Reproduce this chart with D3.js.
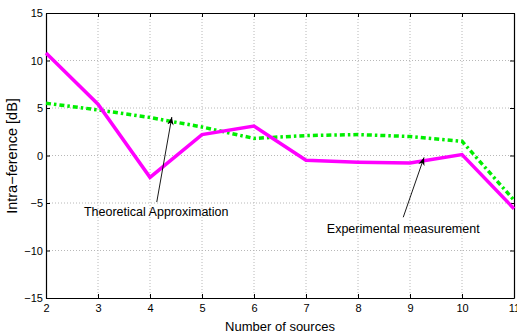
<!DOCTYPE html>
<html>
<head>
<meta charset="utf-8">
<script src="https://cdn.jsdelivr.net/npm/d3@7"></script>
<style>
  body { margin: 0; background: #fff; }
  text { font-family: "Liberation Sans Narrow", "Liberation Sans", Arial, sans-serif; fill: #000; }
</style>
</head>
<body>
<div id="chart"></div>
<script>
// values
const sources = [2, 3, 4, 5, 6, 7, 8, 9, 10, 11];
const experimental = [10.8, 5.4, -2.3, 2.2, 3.1, -0.5, -0.7, -0.8, 0.1, -5.6];
const theoretical = [5.5, 4.8, 4.0, 3.0, 1.8, 2.1, 2.2, 2.0, 1.5, -4.7];
const xTicks = [2, 3, 4, 5, 6, 7, 8, 9, 10, 11];
const yTicks = [-15, -10, -5, 0, 5, 10, 15];

const W = 517, H = 335;
const margin = { top: 13, right: 3, bottom: 37, left: 46 };
const width = W - margin.left - margin.right;
const height = H - margin.top - margin.bottom;

const x = d3.scaleLinear().domain([2, 11]).range([0, width]);
const y = d3.scaleLinear().domain([-15, 15]).range([height, 0]);

const svg = d3.select('#chart').append('svg')
  .attr('width', W)
  .attr('height', H)
  .append('g')
  .attr('transform', `translate(${margin.left},${margin.top})`);

// dotted grid
svg.append('g').selectAll('line.gx')
  .data(xTicks.slice(1, -1))
  .join('line')
  .attr('x1', d => x(d)).attr('x2', d => x(d))
  .attr('y1', 0).attr('y2', height)
  .attr('stroke', '#b8b8b8').attr('stroke-width', 1).attr('stroke-dasharray', '1,2');
svg.append('g').selectAll('line.gy')
  .data(yTicks.slice(1, -1))
  .join('line')
  .attr('x1', 0).attr('x2', width)
  .attr('y1', d => y(d)).attr('y2', d => y(d))
  .attr('stroke', '#b8b8b8').attr('stroke-width', 1).attr('stroke-dasharray', '1,2');

// axes, ticks pointing inwards
const xAxis = svg.append('g')
  .attr('transform', `translate(0,${height})`)
  .call(d3.axisBottom(x).tickValues(xTicks).tickSizeInner(-4).tickSizeOuter(0).tickPadding(8));
const xTop = svg.append('g')
  .call(d3.axisTop(x).tickValues(xTicks).tickSizeInner(-4).tickSizeOuter(0).tickFormat(''));
const yAxis = svg.append('g')
  .call(d3.axisLeft(y).tickValues(yTicks).tickSizeInner(-4).tickSizeOuter(0).tickPadding(3));
const yRight = svg.append('g')
  .attr('transform', `translate(${width},0)`)
  .call(d3.axisRight(y).tickValues(yTicks).tickSizeInner(-4).tickSizeOuter(0).tickFormat(''));

[xAxis, xTop, yAxis, yRight].forEach(g => {
  g.select('.domain').attr('stroke', '#000').attr('stroke-width', 1.2);
  g.selectAll('.tick line').attr('stroke', '#000');
  g.selectAll('.tick text').attr('font-size', 11)
    .attr('font-family', '"Liberation Sans Narrow", "Liberation Sans", Arial, sans-serif');
});
xAxis.selectAll('.tick text').attr('dy', '0.55em');

const line = d3.line()
  .x((d, i) => x(sources[i]))
  .y(d => y(d));

svg.append('path')
  .datum(theoretical)
  .attr('fill', 'none')
  .attr('stroke', '#00ee00')
  .attr('stroke-width', 3.5)
  .attr('stroke-dasharray', '5,3,2.5,3')
  .attr('d', line);

svg.append('path')
  .datum(experimental)
  .attr('fill', 'none')
  .attr('stroke', '#ff00ff')
  .attr('stroke-width', 3.5)
  .attr('stroke-linejoin', 'miter')
  .attr('d', line);

// annotations
const defs = svg.append('defs');
defs.append('marker')
  .attr('id', 'arr')
  .attr('viewBox', '0 0 10 10')
  .attr('refX', 10).attr('refY', 5)
  .attr('markerWidth', 9).attr('markerHeight', 9)
  .attr('orient', 'auto')
  .append('path')
  .attr('d', 'M0,1 L10,5 L0,9 L3,5 Z')
  .attr('fill', '#000');

// text centre, arrow tail (f) and head (h), in data units
const notes = [
  { label: 'Theoretical Approximation', tx: 4.12, ty: -6.05, fx: 4.13, fy: -4.9, hx: 4.42, hy: 4.05 },
  { label: 'Experimental measurement', tx: 8.87, ty: -7.85, fx: 8.87, fy: -6.5, hx: 9.27, hy: -0.2 }
];
notes.forEach(n => {
  svg.append('line')
    .attr('x1', x(n.fx)).attr('y1', y(n.fy))
    .attr('x2', x(n.hx)).attr('y2', y(n.hy))
    .attr('stroke', '#000').attr('stroke-width', 0.9)
    .attr('marker-end', 'url(#arr)');
  svg.append('text')
    .attr('x', x(n.tx)).attr('y', y(n.ty))
    .attr('text-anchor', 'middle')
    .attr('dominant-baseline', 'middle')
    .attr('font-size', 12.5)
    .text(n.label);
});

// axis titles
svg.append('text')
  .attr('x', 234).attr('y', height + 33)
  .attr('text-anchor', 'middle')
  .attr('font-size', 13)
  .text('Number of sources');

svg.append('text')
  .attr('transform', `translate(${-29},${143}) rotate(-90)`)
  .attr('text-anchor', 'middle')
  .attr('font-family', '"Liberation Sans", Arial, sans-serif')
  .attr('font-size', 14.5)
  .text('Intra\u2212ference [dB]');
</script>
</body>
</html>
